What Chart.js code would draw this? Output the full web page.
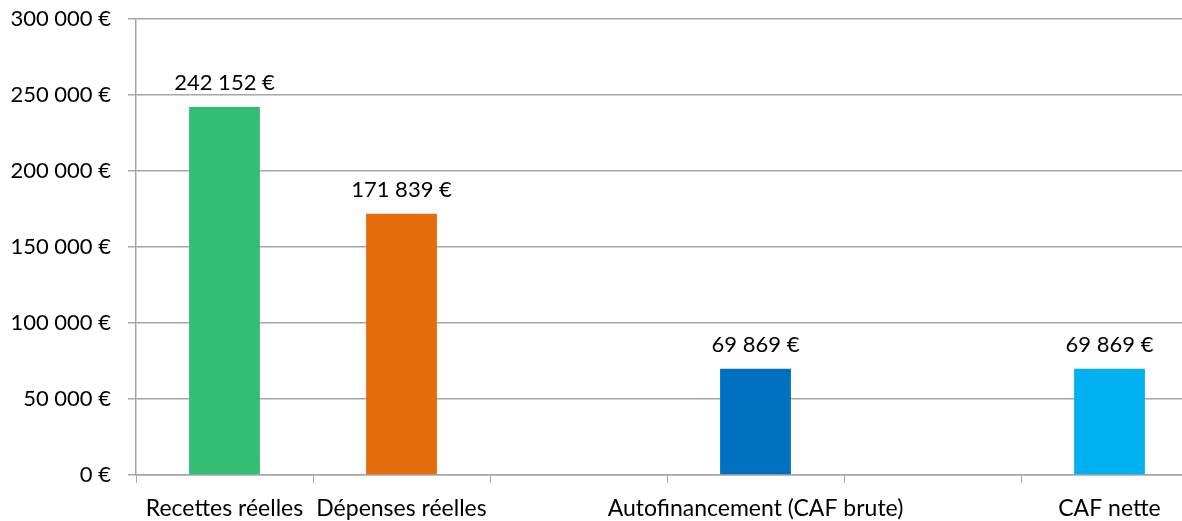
<!DOCTYPE html>
<html>
<head>
<meta charset="utf-8">
<script src="https://cdn.jsdelivr.net/npm/chart.js@4/dist/chart.umd.min.js"></script>
<style>
html,body{margin:0;padding:0;background:#fff;overflow:hidden;}
#wrap{position:absolute;left:0;top:0;width:1200px;height:521px;}
</style>
</head>
<body>
<div id="wrap"><canvas id="c"></canvas></div>
<script>
const categories = ["Recettes réelles", "Dépenses réelles", "", "Autofinancement (CAF brute)", "", "CAF nette"];
const values = [242152, 171839, null, 69869, null, 69869];
const barColors = ["#33BE76", "#E46C0A", "#FFFFFF", "#0070C0", "#FFFFFF", "#00B0F0"];
const yTicks = [0, 50000, 100000, 150000, 200000, 250000, 300000];

const FONT = "Lato";
const FS = 22;

function fmt(v){
  return String(Math.round(v)).replace(/\B(?=(\d{3})+(?!\d))/g, " ") + " €";
}

const labelPlugin = {
  id: "barLabels",
  afterDatasetsDraw(chart){
    const ctx = chart.ctx;
    const meta = chart.getDatasetMeta(0);
    ctx.save();
    ctx.font = FS + "px " + FONT;
    ctx.fillStyle = "#000";
    ctx.textAlign = "center";
    ctx.textBaseline = "alphabetic";
    meta.data.forEach((bar, i) => {
      const v = values[i];
      if (v === null || v === undefined) return;
      ctx.fillText(fmt(v), bar.x, bar.y - 17);
    });
    ctx.restore();
  }
};

new Chart(document.getElementById("c"), {
  type: "bar",
  data: {
    labels: categories,
    datasets: [{
      data: values,
      backgroundColor: barColors,
      barPercentage: 0.4,
      categoryPercentage: 1.0
    }]
  },
  options: {
    responsive: true,
    maintainAspectRatio: false,
    animation: false,
    layout: { padding: { top: 19, right: 2, left: 0, bottom: 0 } },
    plugins: { legend: { display: false }, tooltip: { enabled: false } },
    scales: {
      x: {
        grid: { display: true, drawOnChartArea: false, drawTicks: true, tickLength: 8, color: "#A6A6A6", offset: true },
        border: { color: "#A6A6A6", width: 1.5 },
        ticks: { color: "#000", font: { family: FONT, size: 23 }, maxRotation: 0, autoSkip: false, padding: 12 },
        afterFit(s){ s.height = 46; s.paddingLeft = 0; s.paddingRight = 0; }
      },
      y: {
        min: 0, max: 300000,
        afterBuildTicks(s){ s.ticks = yTicks.map(v => ({ value: v })); },
        grid: { color: "#A6A6A6", lineWidth: 1.5, tickLength: 8 },
        border: { color: "#A6A6A6", width: 1.5 },
        ticks: { color: "#000", font: { family: FONT, size: FS }, padding: 17, callback: v => fmt(v) },
        afterFit(s){ s.width = 136; s.paddingTop = 0; s.paddingBottom = 0; }
      }
    }
  },
  plugins: [labelPlugin]
});
</script>
</body>
</html>
